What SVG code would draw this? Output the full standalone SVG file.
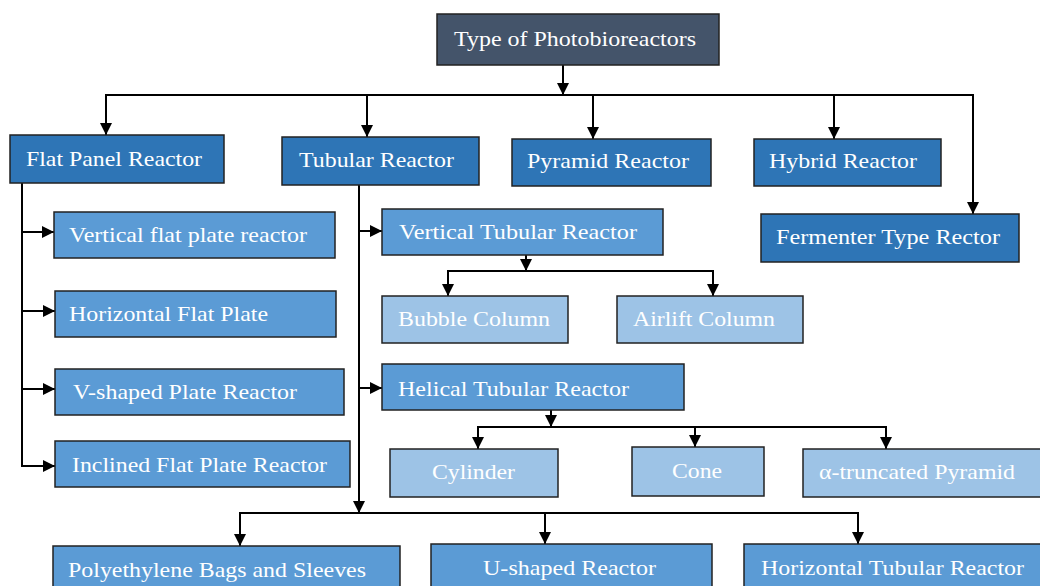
<svg xmlns="http://www.w3.org/2000/svg" width="1040" height="586" viewBox="0 0 1040 586">
<style>
.box{stroke:#222;stroke-width:1.5}
.root{fill:#44546A}
.l1{fill:#2E75B6}
.l2{fill:#5B9BD5}
.l3{fill:#9DC3E6}
text{font-family:"Liberation Serif","Times New Roman",serif;font-size:22px;fill:#fff}
.c line,.c path{stroke:#000;stroke-width:2;fill:none}
</style>
<defs>
<marker id="ah" viewBox="0 0 12 12" markerWidth="12" markerHeight="12" refX="12" refY="6" orient="auto" markerUnits="userSpaceOnUse">
<path d="M0,0 L12,6 L0,12 z" fill="#000"/>
</marker>
</defs>
<rect width="1040" height="586" fill="#fff"/>
<g class="c" id="connectors">
<line x1="563" y1="65" x2="563" y2="95" marker-end="url(#ah)"/>
<line x1="105" y1="95" x2="974" y2="95"/>
<line x1="106" y1="95" x2="106" y2="135" marker-end="url(#ah)"/>
<line x1="367" y1="95" x2="367" y2="137" marker-end="url(#ah)"/>
<line x1="593" y1="95" x2="593" y2="139" marker-end="url(#ah)"/>
<line x1="834" y1="95" x2="834" y2="139" marker-end="url(#ah)"/>
<line x1="973" y1="95" x2="973" y2="214" marker-end="url(#ah)"/>
<line x1="22" y1="183" x2="22" y2="467"/>
<line x1="22" y1="232" x2="54" y2="232" marker-end="url(#ah)"/>
<line x1="22" y1="311" x2="55" y2="311" marker-end="url(#ah)"/>
<line x1="22" y1="389" x2="55" y2="389" marker-end="url(#ah)"/>
<line x1="22" y1="466" x2="55" y2="466" marker-end="url(#ah)"/>
<line x1="359" y1="185" x2="359" y2="513" marker-end="url(#ah)"/>
<line x1="359" y1="231" x2="382" y2="231" marker-end="url(#ah)"/>
<line x1="359" y1="388" x2="382" y2="388" marker-end="url(#ah)"/>
<line x1="239" y1="513" x2="859" y2="513"/>
<line x1="240" y1="513" x2="240" y2="546" marker-end="url(#ah)"/>
<line x1="545" y1="513" x2="545" y2="544" marker-end="url(#ah)"/>
<line x1="858" y1="513" x2="858" y2="544" marker-end="url(#ah)"/>
<line x1="526" y1="255" x2="526" y2="271" marker-end="url(#ah)"/>
<line x1="447" y1="271" x2="714" y2="271"/>
<line x1="448" y1="271" x2="448" y2="296" marker-end="url(#ah)"/>
<line x1="713" y1="271" x2="713" y2="296" marker-end="url(#ah)"/>
<line x1="551" y1="410" x2="551" y2="427" marker-end="url(#ah)"/>
<line x1="477" y1="427" x2="887" y2="427"/>
<line x1="478" y1="427" x2="478" y2="449" marker-end="url(#ah)"/>
<line x1="695" y1="427" x2="695" y2="447" marker-end="url(#ah)"/>
<line x1="886" y1="427" x2="886" y2="449" marker-end="url(#ah)"/>
</g>
<g id="root"><rect class="box root" x="437" y="14" width="282" height="51"/><text x="454" y="46" textLength="242" lengthAdjust="spacingAndGlyphs">Type of Photobioreactors</text></g>
<g id="flat-panel"><rect class="box l1" x="10" y="135" width="214" height="48"/><text x="26" y="166" textLength="176" lengthAdjust="spacingAndGlyphs">Flat Panel Reactor</text></g>
<g id="tubular"><rect class="box l1" x="282" y="137" width="197" height="48"/><text x="299" y="167" textLength="155" lengthAdjust="spacingAndGlyphs">Tubular Reactor</text></g>
<g id="pyramid"><rect class="box l1" x="512" y="139" width="199" height="47"/><text x="527" y="168" textLength="162" lengthAdjust="spacingAndGlyphs">Pyramid Reactor</text></g>
<g id="hybrid"><rect class="box l1" x="754" y="139" width="187" height="47"/><text x="769" y="168" textLength="148" lengthAdjust="spacingAndGlyphs">Hybrid Reactor</text></g>
<g id="fermenter"><rect class="box l1" x="761" y="214" width="258" height="48"/><text x="776" y="244" textLength="224" lengthAdjust="spacingAndGlyphs">Fermenter Type Rector</text></g>
<g id="vertical-flat"><rect class="box l2" x="54" y="212" width="281" height="46"/><text x="69" y="242" textLength="238" lengthAdjust="spacingAndGlyphs">Vertical flat plate reactor</text></g>
<g id="horizontal-flat"><rect class="box l2" x="55" y="291" width="281" height="46"/><text x="69" y="321" textLength="199" lengthAdjust="spacingAndGlyphs">Horizontal Flat Plate</text></g>
<g id="v-shaped"><rect class="box l2" x="55" y="369" width="289" height="46"/><text x="73" y="399" textLength="224" lengthAdjust="spacingAndGlyphs">V-shaped Plate Reactor</text></g>
<g id="inclined"><rect class="box l2" x="55" y="441" width="295" height="46"/><text x="72" y="472" textLength="255" lengthAdjust="spacingAndGlyphs">Inclined Flat Plate Reactor</text></g>
<g id="vertical-tubular"><rect class="box l2" x="382" y="209" width="281" height="46"/><text x="399" y="239" textLength="238" lengthAdjust="spacingAndGlyphs">Vertical Tubular Reactor</text></g>
<g id="bubble"><rect class="box l3" x="382" y="296" width="186" height="47"/><text x="398" y="326" textLength="152" lengthAdjust="spacingAndGlyphs">Bubble Column</text></g>
<g id="airlift"><rect class="box l3" x="617" y="296" width="186" height="47"/><text x="633" y="326" textLength="142" lengthAdjust="spacingAndGlyphs">Airlift Column</text></g>
<g id="helical"><rect class="box l2" x="382" y="364" width="302" height="46"/><text x="398" y="396" textLength="231" lengthAdjust="spacingAndGlyphs">Helical Tubular Reactor</text></g>
<g id="cylinder"><rect class="box l3" x="390" y="449" width="168" height="48"/><text x="432" y="479" textLength="83" lengthAdjust="spacingAndGlyphs">Cylinder</text></g>
<g id="cone"><rect class="box l3" x="632" y="447" width="132" height="49"/><text x="672" y="478" textLength="50" lengthAdjust="spacingAndGlyphs">Cone</text></g>
<g id="truncated"><rect class="box l3" x="803" y="449" width="240" height="48"/><text x="819" y="479" textLength="196" lengthAdjust="spacingAndGlyphs">α-truncated Pyramid</text></g>
<g id="polyethylene"><rect class="box l2" x="53" y="546" width="347" height="46"/><text x="68" y="577" textLength="298" lengthAdjust="spacingAndGlyphs">Polyethylene Bags and Sleeves</text></g>
<g id="u-shaped"><rect class="box l2" x="431" y="544" width="281" height="48"/><text x="483" y="575" textLength="173" lengthAdjust="spacingAndGlyphs">U-shaped Reactor</text></g>
<g id="horizontal-tubular"><rect class="box l2" x="744" y="544" width="300" height="48"/><text x="761" y="575" textLength="263" lengthAdjust="spacingAndGlyphs">Horizontal Tubular Reactor</text></g>
</svg>
